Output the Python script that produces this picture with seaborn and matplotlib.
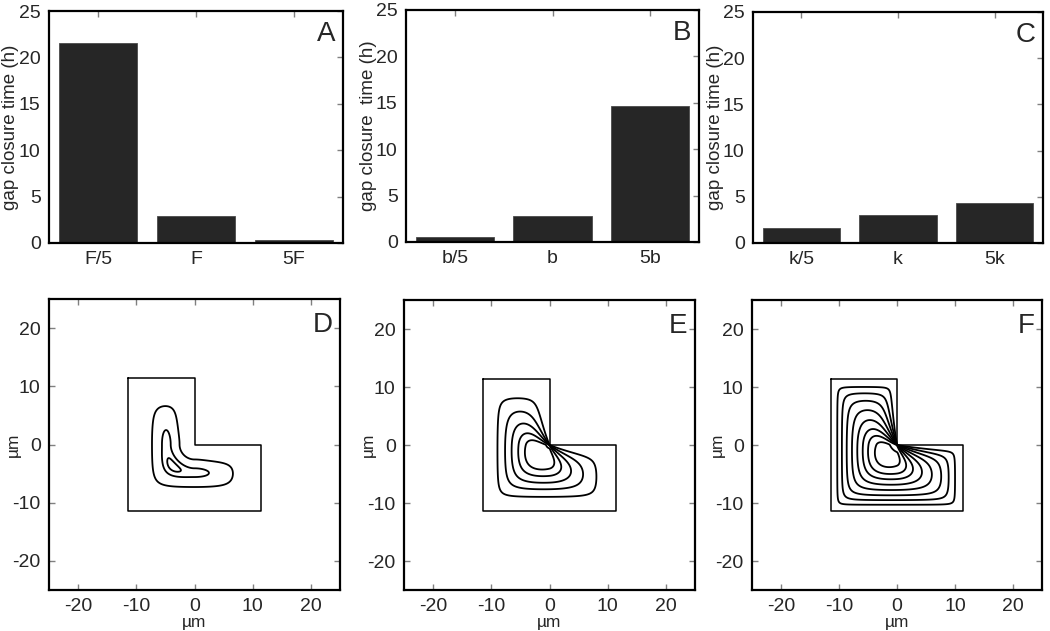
import numpy as np
import matplotlib
matplotlib.use("Agg")
import matplotlib.pyplot as plt
import seaborn as sns

# ── bar panels: gap closure time (h) ────────────────────────────────
CATS_A = ["F/5", "F", "5F"]
TIMES_A = [21.5, 2.9, 0.3]
CATS_B = ["b/5", "b", "5b"]
TIMES_B = [0.5, 2.85, 14.65]
CATS_C = ["k/5", "k", "5k"]
TIMES_C = [1.6, 3.0, 4.35]
BAR_YLABELS = ["gap closure time (h)", "gap closure  time (h)", "gap closure time (h)"]
BAR_YTICKS = [0, 5, 10, 15, 20, 25]

# ── contour panels: L-shaped gap (µm) ───────────────────────────────
GAP_HALF = 11.4
# where each front crosses a horizontal line (x in µm)
CROSS_Y_D = -1.0
CROSS_X_D = [-7.3, -5.6]
ELLIPSE_DROP_D = 0.05           # innermost D front: just below the peak
CROSS_Y_EF = -1.7
CROSS_X_E = [-8.94, -7.63, -6.5, -5.36, -4.21]
CROSS_X_F = [-10.3, -9.5, -8.67, -7.76, -6.84, -5.9, -4.98, -3.8]
PIN_CROSS_X = -4.6              # last front still pinned at the re-entrant corner
# front model: inner-edge factor, corner pin, end-wall factor, soft-min power
MODEL_D = dict(k_inner=1.29, pin=0.88, k_end=1.0, power=2.7)
MODEL_EF = dict(k_inner=0.34, k_end=0.8, power=2.3)
UM_TICKS = [-20, -10, 0, 10, 20]

BAR_COLOR = "#262626"
TICK_COLOR = "#808080"

sns.set_theme(style="ticks")
plt.rcParams["font.family"] = ["Liberation Sans", "DejaVu Sans"]
plt.rcParams["axes.linewidth"] = 1.6
plt.rcParams["axes.edgecolor"] = "black"
plt.rcParams["axes.unicode_minus"] = False

STEP = 0.05
grid = np.arange(-GAP_HALF, GAP_HALF + STEP / 2, STEP)
X, Y = np.meshgrid(grid, grid)
eps = 1e-9
inside = ((np.abs(X) < GAP_HALF - eps) & (np.abs(Y) < GAP_HALF - eps)
          & ~((X > -eps) & (Y > -eps)))


def seg_dist(px, py, x0, y0, x1, y1):
    dx, dy = x1 - x0, y1 - y0
    t = np.clip(((px - x0) * dx + (py - y0) * dy) / (dx * dx + dy * dy), 0, 1)
    return np.hypot(px - x0 - t * dx, py - y0 - t * dy)


def front_field(px, py, k_inner, pin, k_end, power):
    """Soft-min (p-norm) of weighted distances to the gap edges;
    the inner edges advance slowly and the re-entrant corner is pinned."""
    a = GAP_HALF
    px = np.asarray(px, float)
    py = np.asarray(py, float)
    d_inner = np.minimum(seg_dist(px, py, 0, 0, 0, a), seg_dist(px, py, 0, 0, a, 0))
    r = np.maximum(np.hypot(px, py), 1e-6)
    terms = [seg_dist(px, py, -a, -a, -a, a),
             seg_dist(px, py, -a, -a, a, -a),
             k_end * seg_dist(px, py, -a, a, 0, a),
             k_end * seg_dist(px, py, a, -a, a, 0),
             (k_inner + pin / r) * d_inner]
    acc = sum(np.maximum(t, 1e-9) ** (-power) for t in terms)
    return acc ** (-1.0 / power)


# corner pin for E/F: the front through PIN_CROSS_X just reaches the corner
lo, hi = 0.5, 40.0
for _ in range(60):
    pin = 0.5 * (lo + hi)
    corner = front_field(-1e-3, -1e-3, pin=pin, **MODEL_EF)
    here = front_field(PIN_CROSS_X, CROSS_Y_EF, pin=pin, **MODEL_EF)
    if corner < here:
        lo = pin
    else:
        hi = pin
pin_ef = 0.5 * (lo + hi)

field_d = np.where(inside, front_field(X, Y, **MODEL_D), 0.0)
field_ef = np.where(inside, front_field(X, Y, pin=pin_ef, **MODEL_EF), 0.0)

levels_d = list(front_field(CROSS_X_D, [CROSS_Y_D] * len(CROSS_X_D), **MODEL_D))
levels_d.append(field_d.max() - ELLIPSE_DROP_D)
levels_e = list(front_field(CROSS_X_E, [CROSS_Y_EF] * len(CROSS_X_E), pin=pin_ef, **MODEL_EF))
levels_f = list(front_field(CROSS_X_F, [CROSS_Y_EF] * len(CROSS_X_F), pin=pin_ef, **MODEL_EF))

outline_x = [-GAP_HALF, 0, 0, GAP_HALF, GAP_HALF, -GAP_HALF, -GAP_HALF]
outline_y = [GAP_HALF, GAP_HALF, 0, 0, -GAP_HALF, -GAP_HALF, GAP_HALF]

W, H = 1050, 631
fig = plt.figure(figsize=(W / 100, H / 100), dpi=100)


def box(x0, x1, y0, y1):
    return [x0 / W, 1 - y1 / H, (x1 - x0) / W, (y1 - y0) / H]


bar_boxes = [box(49, 343, 11, 243), box(406, 699, 10, 242), box(753, 1043, 12, 243)]
bar_data = [(CATS_A, TIMES_A), (CATS_B, TIMES_B), (CATS_C, TIMES_C)]
bar_label_x = [-0.102, -0.099, -0.1]

for (cats, times), bx, ylab, lx, letter in zip(bar_data, bar_boxes, BAR_YLABELS,
                                               bar_label_x, "ABC"):
    ax = fig.add_axes(bx)
    sns.barplot(x=cats, y=times, color=BAR_COLOR, saturation=1, width=0.8,
                edgecolor="#4a4a4a", linewidth=0.6, ax=ax)
    ax.set_xlim(-0.5, 2.5)
    ax.set_ylim(0, 25)
    ax.set_yticks(BAR_YTICKS)
    ax.tick_params(direction="in", length=4, width=1, color=TICK_COLOR,
                   labelsize=14, top=True, right=True, left=False, bottom=False,
                   pad=6)
    ax.set_ylabel(ylab, fontsize=13.5)
    ax.yaxis.set_label_coords(lx, 0.5)
    ax.set_xlabel("")
    for sp in ax.spines.values():
        sp.set_visible(True)
    ax.text(0.975, 0.955, letter, transform=ax.transAxes, ha="right", va="top",
            fontsize=20)

ct_boxes = [box(49, 340, 299, 590), box(404, 695, 300, 590), box(752, 1042, 300, 590)]
ct_data = [(field_d, levels_d), (field_ef, levels_e), (field_ef, levels_f)]

for (field, levels), bx, letter in zip(ct_data, ct_boxes, "DEF"):
    ax = fig.add_axes(bx)
    sns.lineplot(x=outline_x, y=outline_y, sort=False, estimator=None,
                 color="black", linewidth=1.1, ax=ax)
    ax.contour(X, Y, field, levels=sorted(levels), colors="black", linewidths=1.3)
    ax.set_xlim(-25, 25)
    ax.set_ylim(-25, 25)
    ax.set_xticks(UM_TICKS)
    ax.set_yticks(UM_TICKS)
    ax.tick_params(direction="in", length=4, width=1, color=TICK_COLOR,
                   labelsize=14, top=True, right=True, pad=6)
    ax.set_xlabel("µm", fontsize=12.5, labelpad=0)
    ax.set_ylabel("µm", fontsize=12.5)
    ax.yaxis.set_label_coords(-0.095, 0.5)
    for sp in ax.spines.values():
        sp.set_visible(True)
    ax.text(0.975, 0.955, letter, transform=ax.transAxes, ha="right", va="top",
            fontsize=20)

fig.savefig("out.png", dpi=100)
